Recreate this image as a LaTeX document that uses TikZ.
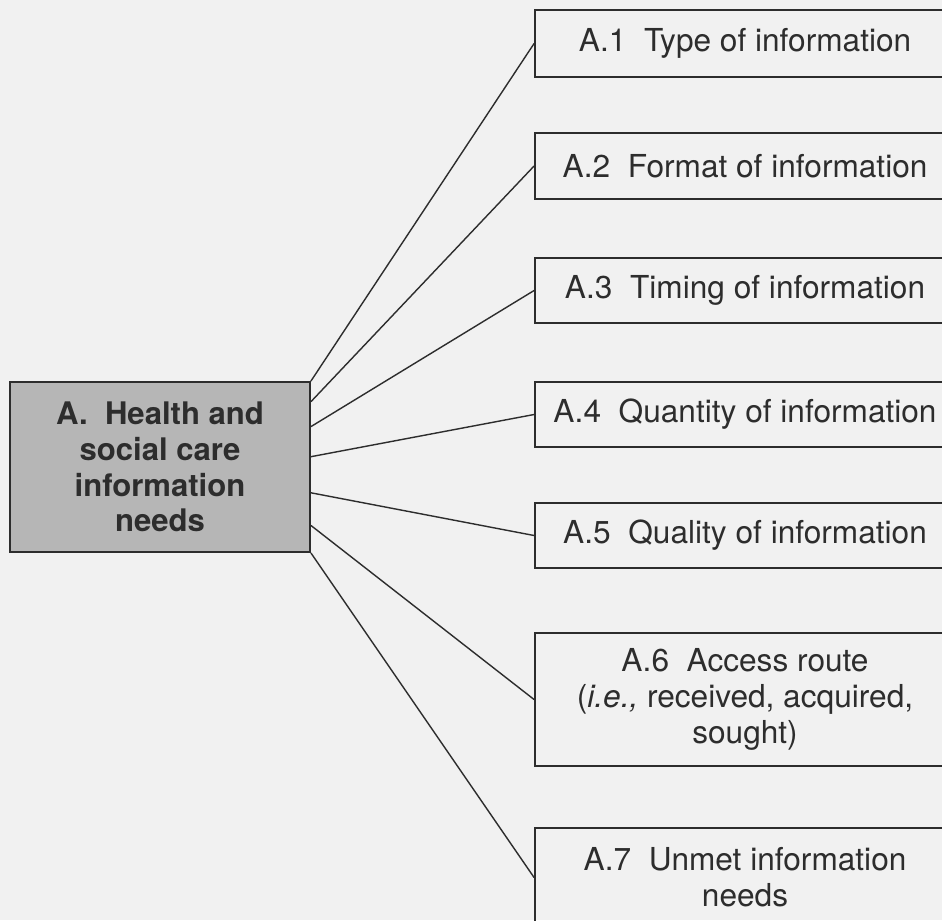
\documentclass[tikz,border=0pt]{standalone}
\usepackage{fontspec}
\setmainfont{TeX Gyre Heros}
\usetikzlibrary{calc}
\definecolor{paper}{RGB}{241,241,241}
\definecolor{ink}{RGB}{45,45,45}
\definecolor{shade}{RGB}{182,182,182}
\begin{document}
\begin{tikzpicture}[
        x=0.02cm,y=-0.02cm,
        infobox/.style={draw=ink,line width=1.1pt,text=ink,minimum width=8.4cm,
            align=center,inner sep=0pt,font=\fontsize{18}{20.6}\selectfont},
        needbox/.style={infobox,fill=shade,minimum width=6cm,minimum height=3.4cm,
            font=\fontsize{17.7}{20.4}\selectfont\bfseries},
        link/.style={draw=ink,line width=0.8pt},
        ]
        \useasboundingbox (0,0) rectangle (942,920);
        \fill[paper] (0,0) rectangle (942,920);
        \clip (0,0) rectangle (942,920);
        % main box
        \node[needbox] (need) at (160,467) {A.\ \ Health and\\social care\\information\\needs};
        % sub boxes
        \node[infobox,minimum height=1.34cm] (type) at (745,43.5) {A.1\ \ Type of information};
        \node[infobox,minimum height=1.32cm] (format) at (745,166) {A.2\ \ Format of information};
        \node[infobox,minimum height=1.3cm] (timing) at (745,290.5) {A.3\ \ Timing of information};
        \node[infobox,minimum height=1.3cm] (quantity) at (745,414.5) {A.4\ \ Quantity of information};
        \node[infobox,minimum height=1.3cm] (quality) at (745,535.5) {A.5\ \ Quality of information};
        \node[infobox,minimum height=2.66cm] (access) at (745,699.5) {A.6\ \ Access route\\(\textit{i.e.,} received, acquired,\\sought)};
        \node[infobox,minimum height=1.98cm] (unmet) at (745,877.5) {A.7\ \ Unmet information\\needs};
        % links
        \draw[link] (need.north east) -- (type.west);
        \draw[link] ($(need.north east)!0.12!(need.south east)$) -- (format.west);
        \draw[link] ($(need.north east)!0.265!(need.south east)$) -- (timing.west);
        \draw[link] ($(need.north east)!0.44!(need.south east)$) -- (quantity.west);
        \draw[link] ($(need.north east)!0.65!(need.south east)$) -- (quality.west);
        \draw[link] ($(need.north east)!0.84!(need.south east)$) -- (access.west);
        \draw[link] (need.south east) -- (unmet.west);
\end{tikzpicture}
\end{document}
